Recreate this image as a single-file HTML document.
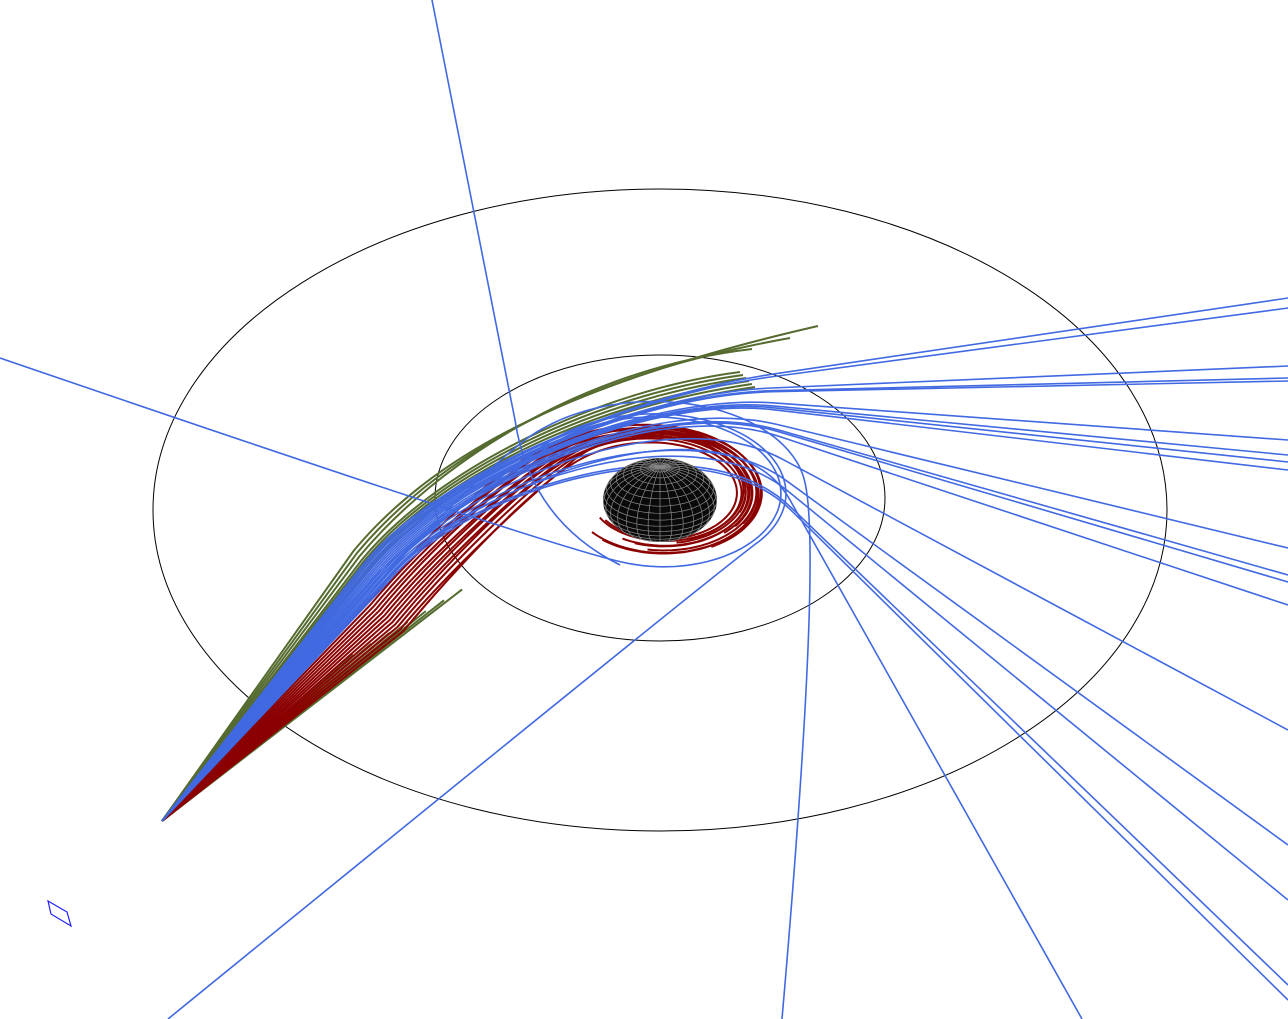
<!DOCTYPE html>
<html><head><meta charset="utf-8"><style>
html,body{margin:0;padding:0;background:#fff;}
svg{display:block;}
</style></head><body>
<svg id="scene" width="1288" height="1019" viewBox="0 0 1288 1019" xmlns="http://www.w3.org/2000/svg">
<defs><clipPath id="sphclip"><ellipse cx="660" cy="500" rx="57" ry="42"/></clipPath></defs>
<ellipse cx="660" cy="510" rx="507" ry="321" fill="none" stroke="#000" stroke-width="1"/>
<ellipse cx="660" cy="498" rx="225" ry="143" fill="none" stroke="#000" stroke-width="1"/>
<g id="rays"></g>
<g id="sphere"></g>
<polygon points="48,901 67,912 71,926 51,914" fill="none" stroke="#2020ff" stroke-width="1.2"/>
</svg>
<script>
// ---- data ----
const blueRightExitY = [298,308,366,378,381,440,455,462,470,548,575,582,605,730,845,900,985,1000];
const blueBottomExitX = [1082];
const greenLongEnd = [[818,326],[790,338],[752,349]];
const greenShortLen = [250,270,290,310,330,350,370];
const redEndAngle = [150,140,120,100,80,60,45,30,20,35,70,110,130,145];
const redStartR = [142,139,136,133,130,127,124,121,118,115,112,109,106,103];
const redEndR = [72,92,80,88,76,95,84,90,78,86,74,82,94,70];
const swirlEndAngle = [110,40,-10];
const swirlR = [115,120,140];
const swirlExit = [[0,358],[168,1019],[782,1019]];
// ---------------
const NS="http://www.w3.org/2000/svg";
const S=[162,821];
const u=[0.641,-0.768], n=[0.768,0.641];
const C=[663,495], SQ=0.62;
function bp(d,s){return [S[0]+s*u[0]+d*n[0], S[1]+s*u[1]+d*n[1]];}
function sp(r,tdeg){const t=tdeg*Math.PI/180;return [C[0]+r*Math.cos(t), C[1]+SQ*r*Math.sin(t)];}
function f(p){return p[0].toFixed(1)+" "+p[1].toFixed(1);}
const rays=document.getElementById('rays');
function addPath(d,color,w,name){
  const p=document.createElementNS(NS,'path');
  p.setAttribute('d',d);p.setAttribute('fill','none');p.setAttribute('stroke',color);p.setAttribute('stroke-width',w);
  
  
  rays.appendChild(p);
}
function spiralPts(r0,r1,t0,t1){
  const pts=[];const N=80;
  for(let i=0;i<=N;i++){const t=t0+(t1-t0)*i/N;const r=r1+(r0-r1)*Math.exp(-(t-t0)/70);pts.push(sp(r,t));}
  return pts;
}
function joinSpiral(d,pts){
  const A=bp(d,300),B=bp(d,380);
  const p0=pts[0],p1=pts[1];
  const tx=p1[0]-p0[0],ty=p1[1]-p0[1],tl=Math.hypot(tx,ty);
  const c2=[p0[0]-tx/tl*50,p0[1]-ty/tl*50];
  let s=`M${f(S)} L${f(A)} C${f(B)} ${f(c2)} ${f(p0)}`;
  pts.slice(1).forEach(p=>s+=` L${f(p)}`);
  return s;
}
const T0=-150;
// green long
const G="#556b2f";
greenLongEnd.forEach((e,i)=>{
  const d=-26+i*4;
  const A=bp(d,330),B=bp(d,450);
  addPath(`M${f(S)} L${f(A)} C${f(B)} ${f([560+i*10,385-i*8])} ${f(e)}`,G,2,'green-ray');
});
for(let i=0;i<6;i++){
  const d=-14+i*2.5;const A=bp(d,330),B=bp(d,450);
  addPath(`M${f(S)} L${f(A)} C${f(B)} ${f([600,390+i*4])} ${f([740+i*3,372+i*3])}`,G,2,'green-ray');
}
greenShortLen.forEach((L,i)=>{
  const d=40+i*7;
  addPath(`M${f(S)} L${f(bp(d,L))}`,G,2,'green-ray-short');
});
// red spirals
redEndAngle.forEach((ta,i)=>{
  const d=18+i*3.5;
  const pts=spiralPts(redStartR[i],redEndR[i],T0,ta);
  addPath(joinSpiral(d,pts),"#8b0000",2,'red-captured-ray');
});
// blue right exits
const B_="#4169e1";
function smoothExit(d,M,E){
  const A=bp(d,330),B=bp(d,450);
  const dx=E[0]-M[0],dy=E[1]-M[1],L=Math.hypot(dx,dy);
  const c2=[M[0]-dx/L*130, M[1]-dy/L*130];
  return `M${f(S)} L${f(A)} C${f(B)} ${f(c2)} ${f(M)} L${f(E)}`;
}
blueRightExitY.forEach((y,i)=>{
  const d=-10+i*1.8;
  const k=(y-300);
  const M=[770+k*0.03, 378+k*0.18+d*0.3];
  addPath(smoothExit(d,M,[1288,y]),B_,1.6,'blue-escaping-ray');
});
blueBottomExitX.forEach((x,i)=>{
  addPath(smoothExit(18,[790,500],[x,1019]),B_,1.6,'blue-escaping-ray');
});
// blue swirl rays
swirlEndAngle.forEach((ta,i)=>{
  const d=6+i*4;
  const pts=spiralPts(swirlR[i]+25,swirlR[i],T0,ta);
  let s=joinSpiral(d,pts);
  const e=pts[pts.length-1],q=pts[pts.length-2];
  const tx=e[0]-q[0],ty=e[1]-q[1],tl=Math.hypot(tx,ty);
  const c=[e[0]+tx/tl*70,e[1]+ty/tl*70];
  s+=` Q${f(c)} ${f(swirlExit[i])}`;
  addPath(s,B_,1.6,'blue-swirl-ray');
});
// top ray
addPath(`M432 0 L515 420 Q530 520 620 565`,B_,1.6,'blue-top-ray');
// sphere
const sph=document.getElementById('sphere');
const el=document.createElementNS(NS,'ellipse');
el.setAttribute('cx',660);el.setAttribute('cy',500);el.setAttribute('rx',57);el.setAttribute('ry',42);el.setAttribute('fill','#0a0a0a');


sph.appendChild(el);
const R=57,e=0.67,sc=0.74;
function proj(lat,lon){
  const x=Math.cos(lat)*Math.sin(lon),y=Math.cos(lat)*Math.cos(lon),z=Math.sin(lat);
  const up=y*Math.sin(e)+z*Math.cos(e);
  return {p:[660+R*x, 500-R*sc*up], v:(-y*Math.cos(e)+z*Math.sin(e))>-0.02};
}
const g=document.createElementNS(NS,'g');g.setAttribute('clip-path','url(#sphclip)');


function gridLine(pts){
  let s="";let pen=false;
  pts.forEach(o=>{ if(o.v){s+=(pen?" L":" M")+f(o.p);pen=true;} else pen=false;});
  if(s){const p=document.createElementNS(NS,'path');p.setAttribute('d',s);p.setAttribute('fill','none');p.setAttribute('stroke','#888');p.setAttribute('stroke-width','0.7');g.appendChild(p);}
}
for(let la=-80;la<=80;la+=10){const pts=[];for(let lo=0;lo<=360;lo+=5)pts.push(proj(la*Math.PI/180,lo*Math.PI/180));gridLine(pts);}
for(let lo=0;lo<360;lo+=12){const pts=[];for(let la=-90;la<=90;la+=5)pts.push(proj(la*Math.PI/180,lo*Math.PI/180));gridLine(pts);}
sph.appendChild(g);
</script>
</body></html>
